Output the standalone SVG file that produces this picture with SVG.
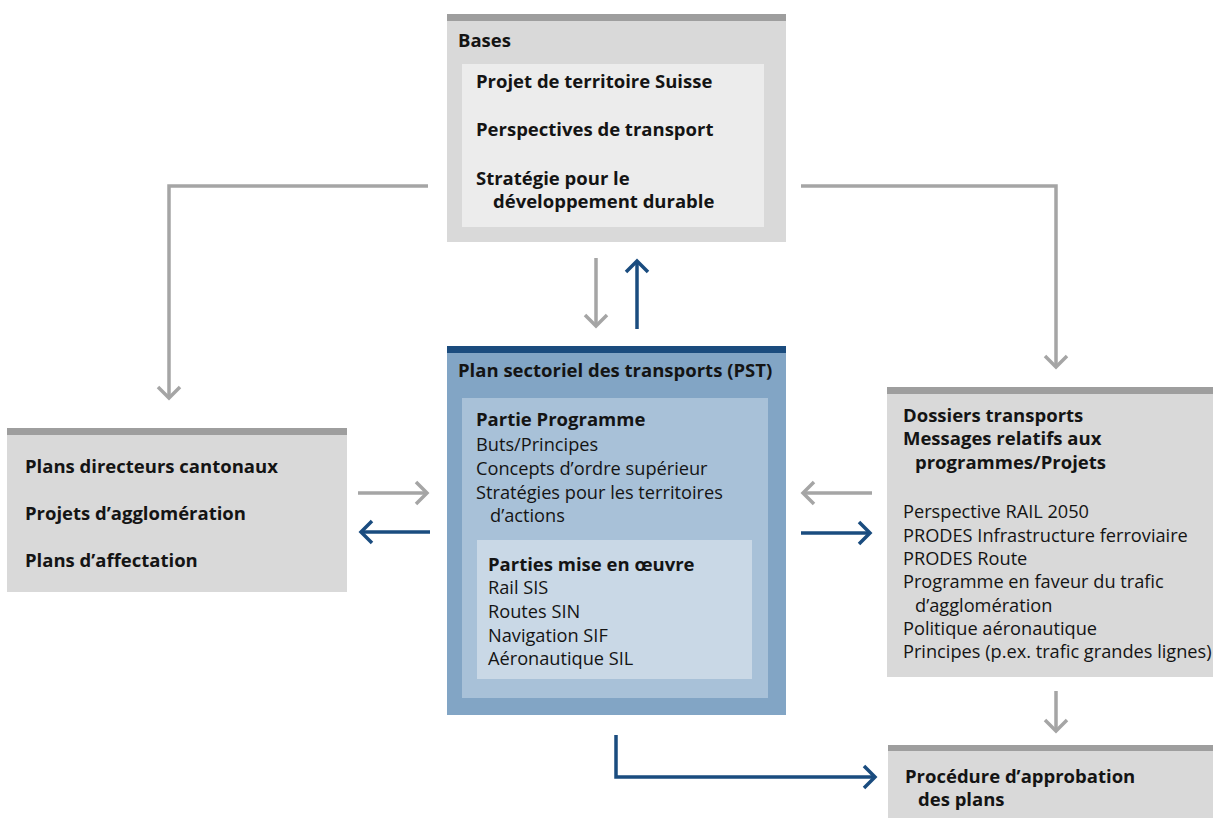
<svg xmlns="http://www.w3.org/2000/svg" width="1213" height="818" viewBox="0 0 1213 818">
<style>
text{font-family:"Open Sans","Liberation Sans",sans-serif;font-size:18.2px;fill:#141414}
.b{font-weight:bold;font-size:18.5px}
.box{fill:#d9d9d9}
.bar{fill:#9e9e9e}
.g{fill:none;stroke:#a5a5a5;stroke-width:3.5}
.bl{fill:none;stroke:#1a4c7f;stroke-width:3.5}
</style>
<defs>
<marker id="ag" markerUnits="userSpaceOnUse" markerWidth="30" markerHeight="30" viewBox="-15 -15 30 30" refX="0" refY="0" orient="auto"><path d="M-11,-11 L0,0 L-11,11" fill="none" stroke="#a5a5a5" stroke-width="3.5"/></marker>
<marker id="ab" markerUnits="userSpaceOnUse" markerWidth="30" markerHeight="30" viewBox="-15 -15 30 30" refX="0" refY="0" orient="auto"><path d="M-11,-11 L0,0 L-11,11" fill="none" stroke="#1a4c7f" stroke-width="3.5"/></marker>
</defs>
<g id="bases">
<rect class="box" x="447" y="14" width="339" height="228"/>
<rect class="bar" x="447" y="14" width="339" height="7"/>
<rect x="462" y="64" width="302" height="163" fill="#ececec"/>
<text class="b" x="458" y="47">Bases</text>
<text class="b" x="476" y="88">Projet de territoire Suisse</text>
<text class="b" x="476" y="136">Perspectives de transport</text>
<text class="b" x="476" y="185">Stratégie pour le</text>
<text class="b" x="493" y="208">développement durable</text>
</g>
<g id="pst">
<rect x="447" y="346" width="339" height="369" fill="#82a5c5"/>
<rect x="447" y="346" width="339" height="7" fill="#1b4c7e"/>
<rect x="462" y="398" width="306" height="300" fill="#a8c1d8"/>
<rect x="477" y="540" width="275" height="139" fill="#c9d8e6"/>
<text class="b" x="458" y="377">Plan sectoriel des transports (PST)</text>
<text class="b" x="476" y="426">Partie Programme</text>
<text x="476" y="451">Buts/Principes</text>
<text x="476" y="475">Concepts d’ordre supérieur</text>
<text x="476" y="499">Stratégies pour les territoires</text>
<text x="490" y="522">d’actions</text>
<text class="b" x="488" y="571">Parties mise en œuvre</text>
<text x="488" y="594">Rail SIS</text>
<text x="488" y="618">Routes SIN</text>
<text x="488" y="642">Navigation SIF</text>
<text x="488" y="665">Aéronautique SIL</text>
</g>
<g id="cantons">
<rect class="box" x="7" y="428" width="340" height="164"/>
<rect class="bar" x="7" y="428" width="340" height="7"/>
<text class="b" x="25" y="473">Plans directeurs cantonaux</text>
<text class="b" x="25" y="520">Projets d’agglomération</text>
<text class="b" x="25" y="567">Plans d’affectation</text>
</g>
<g id="dossiers">
<rect class="box" x="887" y="387" width="326" height="290"/>
<rect class="bar" x="887" y="387" width="326" height="7"/>
<text class="b" x="903" y="422">Dossiers transports</text>
<text class="b" x="903" y="445">Messages relatifs aux</text>
<text class="b" x="915" y="469">programmes/Projets</text>
<text x="903" y="518">Perspective RAIL 2050</text>
<text x="903" y="542">PRODES Infrastructure ferroviaire</text>
<text x="903" y="565">PRODES Route</text>
<text x="903" y="588">Programme en faveur du trafic</text>
<text x="915" y="612">d’agglomération</text>
<text x="903" y="635">Politique aéronautique</text>
<text x="903" y="658">Principes (p.ex. trafic grandes lignes)</text>
</g>
<g id="procedure">
<rect class="box" x="888" y="745" width="325" height="73"/>
<rect class="bar" x="888" y="745" width="325" height="6"/>
<text class="b" x="905" y="783">Procédure d’approbation</text>
<text class="b" x="918" y="806">des plans</text>
</g>
<g id="connectors">
<path class="g" d="M428,186 H169 V398" marker-end="url(#ag)"/>
<path class="g" d="M801,186 H1056 V367" marker-end="url(#ag)"/>
<path class="g" d="M596,258 V326" marker-end="url(#ag)"/>
<path class="bl" d="M637,329 V261" marker-end="url(#ab)"/>
<path class="g" d="M358,493 H427" marker-end="url(#ag)"/>
<path class="bl" d="M430,532 H361" marker-end="url(#ab)"/>
<path class="g" d="M872,493 H803" marker-end="url(#ag)"/>
<path class="bl" d="M801,533 H870" marker-end="url(#ab)"/>
<path class="g" d="M1056,691 V731" marker-end="url(#ag)"/>
<path class="bl" d="M616,735 V777 H875" marker-end="url(#ab)"/>
</g>
</svg>
